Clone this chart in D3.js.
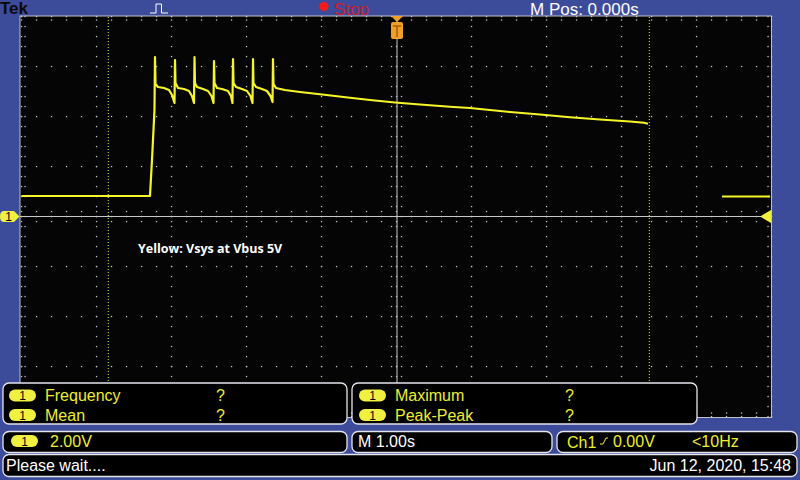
<!DOCTYPE html>
<html><head><meta charset="utf-8">
<script src="https://cdn.jsdelivr.net/npm/d3@7"></script>
<style>body{margin:0;background:#3d4b9b;} svg{display:block}</style>
</head><body>
<svg id="c" width="800" height="480"></svg>
<script>
// ---- data (time in s, volts) ----
const traceTime = [-5.0,-3.287,-3.260,-3.227,-3.220,-3.213,-3.180,-3.100,-3.033,-2.993,-2.960,
  -2.953,-2.947,-2.913,-2.833,-2.767,-2.727,-2.700,
  -2.693,-2.687,-2.660,-2.580,-2.513,-2.467,-2.440,
  -2.433,-2.427,-2.393,-2.327,-2.247,-2.207,-2.187,
  -2.180,-2.173,-2.140,-2.060,-1.993,-1.947,-1.920,
  -1.913,-1.907,-1.873,-1.793,-1.727,-1.680,-1.653,
  -1.647,-1.640,-1.607,-1.487,-1.287,-1.020,-0.620,-0.353,-0.020,0.313,0.713,0.980,
  1.113,1.513,1.913,2.313,2.713,3.113,3.300,3.353,
  3.900,
  4.340,4.980];
const traceVolt = [0.82,0.82,2.26,4.26,6.38,5.30,5.18,5.14,5.06,4.86,4.54,
  6.26,5.34,5.14,5.10,5.02,4.82,4.54,
  6.38,5.34,5.18,5.10,5.02,4.82,4.54,
  6.22,5.34,5.14,5.10,5.02,4.82,4.54,
  6.30,5.34,5.18,5.10,5.02,4.82,4.54,
  6.30,5.34,5.18,5.10,5.02,4.82,4.58,
  6.30,5.30,5.14,5.06,4.98,4.89,4.75,4.66,4.56,4.48,4.39,4.34,
  4.30,4.18,4.08,3.97,3.88,3.80,3.75,3.71,
  NaN,
  0.80,0.80];
const xTicks = [-5,-4,-3,-2,-1,0,1,2,3,4,5];
const yTicks = [-8,-6,-4,-2,0,2,4,6,8];
const cursorTimes = [-3.843, 3.371];
const measLeftNames = ["Frequency","Mean"];
const measLeftVals = ["?","?"];
const measRightNames = ["Maximum","Peak-Peak"];
const measRightVals = ["?","?"];
const chScale = "2.00V";
const timeScale = "M 1.00s";
const trigText = ["Ch1","0.00V","<10Hz"];
const statusText = "Please wait....";
const dateText = "Jun 12, 2020, 15:48";
const annotation = "Yellow: Vsys at Vbus 5V";

const svg = d3.select("#c");
const x = d3.scaleLinear().domain([-5,5]).range([21.5,771.5]);
const y = d3.scaleLinear().domain([-8,8]).range([416.5,16.5]);
const YEL = "#eeee30", TRACE = "#f5f52a", GRID = "#c4c4c4";

svg.append("rect").attr("width",800).attr("height",480).attr("fill","#3d4b9b");

// top bar
svg.append("text").attr("x",0).attr("y",14).attr("font-family","Liberation Sans, Arial").attr("font-weight","bold")
  .attr("font-size",17).attr("fill","#0a0a0a").text("Tek");
svg.append("polyline").attr("points","150,13 156,13 156,4 161.5,4 161.5,13 168,13").attr("fill","none")
  .attr("stroke","#ffffff").attr("stroke-width",1);
svg.append("circle").attr("cx",324).attr("cy",6.5).attr("r",4.5).attr("fill","#ff1a1a");
svg.append("text").attr("x",334).attr("y",15).attr("font-family","Liberation Sans, Arial").attr("font-size",17)
  .attr("fill","#c81e2e").text("Stop");
svg.append("text").attr("x",530).attr("y",14.5).attr("font-family","Liberation Sans, Arial").attr("font-size",17)
  .attr("fill","#ffffff").text("M Pos: 0.000s");

// screen
svg.append("rect").attr("x",20).attr("y",16).attr("width",751.5).attr("height",401.5)
  .attr("fill","#050505").attr("stroke","#c0c0cc").attr("stroke-width",1);

const grid = svg.append("g").attr("fill",GRID);
const minorT = d3.range(-5,5.0001,0.2);
const minorV = d3.range(-8,8.0001,0.4);
yTicks.forEach(v => minorT.forEach(t => grid.append("rect").attr("x",x(t)-0.6).attr("y",y(v)-0.6).attr("width",1.3).attr("height",1.3)));
xTicks.forEach(t => minorV.forEach(v => grid.append("rect").attr("x",x(t)-0.6).attr("y",y(v)-0.6).attr("width",1.3).attr("height",1.3)));
// axis tick dots (center & edges)
minorT.forEach(t => [y(0)-5,y(0)+5,y(8)+3.5,y(-8)-3.5].forEach(yy =>
  grid.append("rect").attr("x",x(t)-0.6).attr("y",yy-0.6).attr("width",1.3).attr("height",1.3)));
minorV.forEach(v => [x(0)-5,x(0)+5,x(-5)+3.5,x(5)-3.5].forEach(xx =>
  grid.append("rect").attr("x",xx-0.6).attr("y",y(v)-0.6).attr("width",1.3).attr("height",1.3)));
// solid center lines
svg.append("line").attr("x1",20).attr("x2",771).attr("y1",y(0)).attr("y2",y(0)).attr("stroke","#c8c8c8").attr("stroke-width",1);
svg.append("line").attr("x1",x(0)+0.5).attr("x2",x(0)+0.5).attr("y1",16).attr("y2",417).attr("stroke","#c8c8c8").attr("stroke-width",1);

// cursors
cursorTimes.forEach(t => svg.append("line").attr("x1",x(t)).attr("x2",x(t)).attr("y1",17).attr("y2",417)
  .attr("stroke",YEL).attr("stroke-width",1).attr("stroke-dasharray","1,2"));

// trace
const data = traceTime.map((t,i)=>({t, v:traceVolt[i]}));
const line = d3.line().defined(d=>!isNaN(d.v)).x(d=>x(d.t)).y(d=>y(d.v));
svg.append("path").datum(data).attr("d",line).attr("fill","none").attr("stroke",TRACE)
  .attr("stroke-width",2.2).attr("stroke-linejoin","round");

// annotation
svg.append("text").attr("x",138).attr("y",253).attr("font-family","Open Sans").attr("font-weight","bold")
  .attr("font-size",12.5).attr("fill","#ffffff").text(annotation);

// trigger marker top
const tx = x(0)+0.5;
svg.append("path").attr("d",`M${tx-6},16 L${tx+6},16 L${tx},22 Z`).attr("fill","#f0a02a");
svg.append("rect").attr("x",tx-6).attr("y",22).attr("width",12).attr("height",17).attr("rx",2).attr("fill","#f0a02a");
svg.append("path").attr("d",`M${tx-4},26 L${tx+4},26 M${tx},26 L${tx},37`).attr("stroke","#a85a00").attr("stroke-width",1.5);

// ch1 marker left
const gy = y(0);
svg.append("path").attr("d",`M4,${gy-5.5} L14,${gy-5.5} L19.5,${gy} L14,${gy+5.5} L4,${gy+5.5} Q0,${gy+5.5} 0,${gy} Q0,${gy-5.5} 4,${gy-5.5} Z`).attr("fill","#f0f040");
svg.append("text").attr("x",8.5).attr("y",gy+4.5).attr("font-family","Liberation Sans, Arial").attr("font-size",12)
  .attr("fill","#000").attr("text-anchor","middle").text("1");
// trigger level arrow right
svg.append("path").attr("d",`M760,${gy} L771,${gy-6.5} L771,${gy+6.5} Z`).attr("fill","#f0f040");

// panels
function panel(x0,y0,w,h){
  svg.append("rect").attr("x",x0).attr("y",y0).attr("width",w).attr("height",h).attr("rx",6)
    .attr("fill","#000").attr("stroke","#e4e4ec").attr("stroke-width",1.3);
}
function pill(cx,cy){
  svg.append("rect").attr("x",cx-13.5).attr("y",cy-6).attr("width",27).attr("height",12).attr("rx",6).attr("fill","#f0f040");
  svg.append("text").attr("x",cx).attr("y",cy+4.5).attr("font-family","Liberation Sans, Arial").attr("font-size",12)
    .attr("fill","#000").attr("text-anchor","middle").text("1");
}
const F = "Liberation Sans, Arial";
panel(3,383,344,41);
panel(352,383,345,41);
measLeftNames.forEach((n,i)=>{
  const by = 401 + i*19.5;
  pill(22.5, by-5.5);
  svg.append("text").attr("x",45).attr("y",by).attr("font-family",F).attr("font-size",16).attr("fill",YEL).text(n);
  svg.append("text").attr("x",216).attr("y",by).attr("font-family",F).attr("font-size",16).attr("fill",YEL).text(measLeftVals[i]);
});
measRightNames.forEach((n,i)=>{
  const by = 401 + i*19.5;
  pill(372.5, by-5.5);
  svg.append("text").attr("x",395).attr("y",by).attr("font-family",F).attr("font-size",16).attr("fill",YEL).text(n);
  svg.append("text").attr("x",565).attr("y",by).attr("font-family",F).attr("font-size",16).attr("fill",YEL).text(measRightVals[i]);
});

panel(3,431.5,344,21);
panel(352,431.5,200,21);
panel(557,431.5,240,21);
pill(24.5,441);
svg.append("text").attr("x",50).attr("y",447).attr("font-family",F).attr("font-size",16).attr("fill",YEL).text(chScale);
svg.append("text").attr("x",358).attr("y",447).attr("font-family",F).attr("font-size",16).attr("fill","#ffffff").text(timeScale);
svg.append("text").attr("x",567).attr("y",448).attr("font-family",F).attr("font-size",16).attr("fill",YEL).text(trigText[0]);
svg.append("path").attr("d","M600,444 L603,444 L606,438 L608,438").attr("fill","none").attr("stroke",YEL).attr("stroke-width",1);
svg.append("text").attr("x",613).attr("y",447).attr("font-family",F).attr("font-size",16).attr("fill",YEL).text(trigText[1]);
svg.append("text").attr("x",692).attr("y",447).attr("font-family",F).attr("font-size",16).attr("fill",YEL).text(trigText[2]);

panel(3,454.5,794,22);
svg.append("text").attr("x",6).attr("y",471).attr("font-family",F).attr("font-size",16).attr("fill","#ffffff").text(statusText);
svg.append("text").attr("x",791).attr("y",471).attr("font-family",F).attr("font-size",16).attr("fill","#ffffff")
  .attr("text-anchor","end").text(dateText);
</script>
</body></html>
